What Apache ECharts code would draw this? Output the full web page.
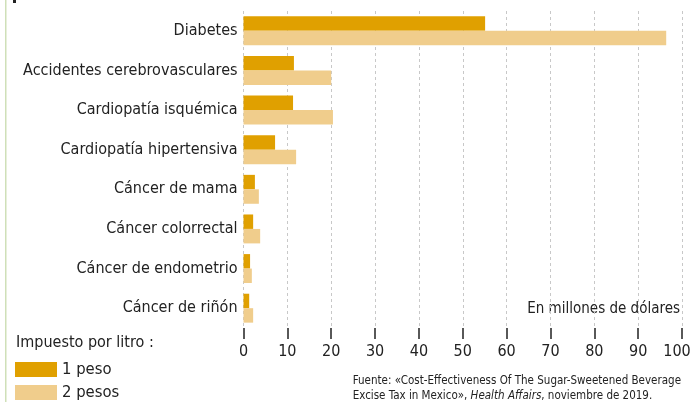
<!DOCTYPE html>
<html>
<head>
<meta charset="utf-8">
<script src="https://cdn.jsdelivr.net/npm/echarts@6/dist/echarts.min.js"></script>
<style>
  html, body { margin: 0; padding: 0; background: #fff; }
  #chart { width: 695px; height: 402px; }
</style>
</head>
<body>
<div id="chart"></div>
<script>
var categories = ['Diabetes', 'Accidentes cerebrovasculares', 'Cardiopatía isquémica',
    'Cardiopatía hipertensiva', 'Cáncer de mama', 'Cáncer colorrectal',
    'Cáncer de endometrio', 'Cáncer de riñón'];
var peso1 = [55.1, 11.5, 11.3, 7.2, 2.6, 2.2, 1.5, 1.3];
var peso2 = [96.4, 20.0, 20.4, 12.0, 3.5, 3.8, 1.9, 2.2];
var seriesNames = ['1 peso', '2 pesos'];
var xTicks = [0, 10, 20, 30, 40, 50, 60, 70, 80, 90, 100];

var font = '"DejaVu Sans Condensed", "DejaVu Sans", sans-serif';

function legendFor(name, top) {
    return {
        data: [name],
        left: 15,
        top: top,
        padding: 0,
        itemWidth: 42,
        itemHeight: 15,
        icon: 'rect',
        textStyle: { fontFamily: font, fontSize: 16.5, color: '#222' }
    };
}

var myChart = echarts.init(document.getElementById('chart'));
var option = {
    animation: false,
    textStyle: { fontFamily: font },
    grid: { left: 243.5, right: 13, top: 11, bottom: 74, outerBoundsMode: 'none', containLabel: false },
    legend: [legendFor(seriesNames[0], 361), legendFor(seriesNames[1], 384)],
    xAxis: {
        type: 'value',
        min: xTicks[0],
        max: xTicks[xTicks.length - 1],
        interval: 10,
        axisLine: { show: false },
        axisTick: { show: true, length: 11, lineStyle: { color: '#222', width: 1.5 } },
        axisLabel: {
            fontFamily: font, fontSize: 16, color: '#222', margin: 16,
            formatter: function (v) { return v === 100 ? '{m|' + v + '}' : String(v); },
            rich: { m: { fontFamily: font, fontSize: 16, color: '#222', padding: [0, 0, 0, -10] } }
        },
        splitLine: { show: true, lineStyle: { type: [3, 3], color: '#c8c8c8', width: 1 } }
    },
    yAxis: {
        type: 'category',
        inverse: true,
        data: categories,
        axisLine: { show: false },
        axisTick: { show: false },
        axisLabel: { fontFamily: font, fontSize: 16, color: '#222', margin: 6 }
    },
    series: [
        {
            name: seriesNames[0],
            type: 'bar',
            data: peso1,
            barGap: '0%',
            barCategoryGap: '27%',
            itemStyle: { color: '#e0a000' }
        },
        {
            name: seriesNames[1],
            type: 'bar',
            data: peso2,
            barGap: '0%',
            barCategoryGap: '27%',
            itemStyle: { color: '#f0cd8c' }
        }
    ],
    graphic: [
        { type: 'rect', shape: { x: 5, y: 0, width: 1.5, height: 402 }, style: { fill: '#cfe0b8' } },
        { type: 'rect', shape: { x: 13, y: 0, width: 3, height: 3 }, style: { fill: '#222' } },
        {
            type: 'text', left: 16, top: 335,
            style: { text: 'Impuesto por litro :', font: '16px ' + font, fill: '#222' }
        },
        {
            type: 'text', right: 15, top: 302,
            style: { text: 'En millones de dólares', font: '15px ' + font, fill: '#222' }
        },
        {
            type: 'text', right: 14, top: 374,
            style: {
                text: 'Fuente: «Cost-Effectiveness Of The Sugar-Sweetened Beverage\nExcise Tax in Mexico», {i|Health Affairs}, noviembre de 2019.',
                font: '11.5px ' + font,
                fill: '#222',
                align: 'right',
                lineHeight: 15,
                rich: { i: { fontStyle: 'italic', fontFamily: font, fontSize: 11.5, fill: '#222' } }
            }
        }
    ]
};
myChart.setOption(option);
</script>
</body>
</html>
